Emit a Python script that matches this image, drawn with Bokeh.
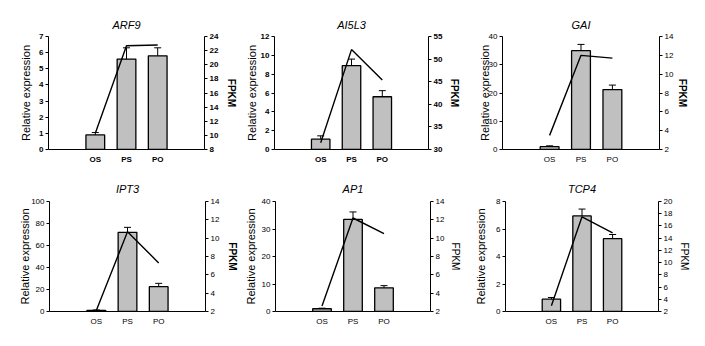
from bokeh.plotting import figure
from bokeh.models import Range1d, LinearAxis, FactorRange, FixedTicker, Whisker, TeeHead, ColumnDataSource
from bokeh.layouts import column, row
from bokeh.embed import file_html
from bokeh.resources import INLINE

# ---------------- data ----------------
stages = ["OS", "PS", "PO"]

arf9_rel = [0.9, 5.6, 5.8]
arf9_upper = [1.05, 6.3, 6.3]
arf9_fpkm = [10.3, 22.7, 22.8]
arf9_left_ticks = [0, 1, 2, 3, 4, 5, 6, 7]
arf9_right_ticks = [8, 10, 12, 14, 16, 18, 20, 22, 24]

ai5l3_rel = [1.1, 8.9, 5.6]
ai5l3_upper = [1.45, 9.6, 6.25]
ai5l3_fpkm = [31.5, 52.1, 45.4]
ai5l3_left_ticks = [0, 2, 4, 6, 8, 10, 12]
ai5l3_right_ticks = [30, 35, 40, 45, 50, 55]

gai_rel = [1.0, 35.0, 21.2]
gai_upper = [1.3, 37.2, 22.8]
gai_fpkm = [3.5, 12.0, 11.7]
gai_left_ticks = [0, 10, 20, 30, 40]
gai_right_ticks = [2, 4, 6, 8, 10, 12, 14]

ipt3_rel = [1.0, 72.0, 22.6]
ipt3_upper = [1.4, 76.5, 25.6]
ipt3_fpkm = [2.1, 10.7, 7.3]
ipt3_left_ticks = [0, 20, 40, 60, 80, 100]
ipt3_right_ticks = [2, 4, 6, 8, 10, 12, 14]

ap1_rel = [1.0, 33.5, 8.6]
ap1_upper = [1.2, 36.2, 9.4]
ap1_fpkm = [2.6, 12.2, 10.5]
ap1_left_ticks = [0, 10, 20, 30, 40]
ap1_right_ticks = [2, 4, 6, 8, 10, 12, 14]

tcp4_rel = [0.9, 6.95, 5.3]
tcp4_upper = [1.02, 7.45, 5.6]
tcp4_fpkm = [2.95, 17.5, 14.85]
tcp4_left_ticks = [0, 2, 4, 6, 8]
tcp4_right_ticks = [2, 4, 6, 8, 10, 12, 14, 16, 18, 20]

genes = ["ARF9", "AI5L3", "GAI", "IPT3", "AP1", "TCP4"]
rel_values = [arf9_rel, ai5l3_rel, gai_rel, ipt3_rel, ap1_rel, tcp4_rel]
upper_values = [arf9_upper, ai5l3_upper, gai_upper, ipt3_upper, ap1_upper, tcp4_upper]
fpkm_values = [arf9_fpkm, ai5l3_fpkm, gai_fpkm, ipt3_fpkm, ap1_fpkm, tcp4_fpkm]
left_ticks = [arf9_left_ticks, ai5l3_left_ticks, gai_left_ticks, ipt3_left_ticks, ap1_left_ticks, tcp4_left_ticks]
right_ticks = [arf9_right_ticks, ai5l3_right_ticks, gai_right_ticks, ipt3_right_ticks, ap1_right_ticks, tcp4_right_ticks]

# ---------------- layout / style ----------------
FONT = "Liberation Sans"
layouts = [
    dict(w=241, mbl=48, mbr=37, mbt=36, mbb=24, lstand=4, rstand=5, bold=True, rbold=True, tstand=12),
    dict(w=227, mbl=33, mbr=40, mbt=36, mbb=24, lstand=0, rstand=4, bold=True, rbold=True, tstand=12),
    dict(w=237, mbl=34, mbr=46, mbt=36, mbb=24, lstand=-5, rstand=1, bold=False, rbold=True, tstand=12),
    dict(w=241, mbl=49, mbr=36, mbt=26, mbb=35, lstand=-3, rstand=5, bold=False, rbold=True, tstand=14),
    dict(w=227, mbl=33, mbr=38, mbt=26, mbb=35, lstand=2, rstand=3, bold=False, rbold=False, tstand=14),
    dict(w=237, mbl=37, mbr=47, mbt=26, mbb=35, lstand=6, rstand=4, bold=False, rbold=False, tstand=14),
]


def make_panel(i):
    L = layouts[i]
    lt, rt = left_ticks[i], right_ticks[i]
    p = figure(
        x_range=FactorRange(*stages, range_padding=1.0, range_padding_units="absolute"),
        y_range=Range1d(lt[0], lt[-1]),
        width=L["w"], height=173,
        output_backend="svg", toolbar_location=None,
        min_border_left=L["mbl"], min_border_right=L["mbr"],
        min_border_top=L["mbt"], min_border_bottom=L["mbb"],
        title=genes[i],
    )
    p.extra_y_ranges = {"fpkm": Range1d(rt[0], rt[-1])}
    p.outline_line_color = None
    p.xgrid.visible = False
    p.ygrid.visible = False
    p.background_fill_color = "white"
    p.border_fill_color = "white"

    p.title.align = "center"
    p.title.text_font = FONT
    p.title.text_font_style = "italic"
    p.title.text_font_size = "11px"
    p.title.text_color = "black"
    p.title.standoff = L["tstand"]

    tick_style = "bold" if L["bold"] else "normal"

    yl = p.left[0]
    yl.ticker = FixedTicker(ticks=lt)
    yl.axis_label = "Relative expression"
    yl.axis_label_standoff = L["lstand"]

    yr = LinearAxis(y_range_name="fpkm", ticker=FixedTicker(ticks=rt), axis_label="FPKM")
    yr.axis_label_standoff = L["rstand"]
    yr.axis_label_text_font_style = "bold" if L["rbold"] else "normal"
    p.add_layout(yr, "right")

    for ax in (yl, yr):
        ax.axis_line_color = "black"
        ax.axis_line_width = 1
        ax.major_tick_line_color = "black"
        ax.major_tick_out = 3
        ax.major_tick_in = 0
        ax.minor_tick_out = 0
        ax.minor_tick_in = 0
        ax.major_label_standoff = 2
        ax.major_label_text_font = FONT
        ax.major_label_text_font_size = "8px"
        ax.major_label_text_font_style = tick_style
        ax.major_label_text_color = "black"
        ax.axis_label_text_font = FONT
        ax.axis_label_text_color = "black"
    yl.axis_label_text_font_size = "11px"
    yl.axis_label_text_font_style = "normal"
    yr.axis_label_text_font_size = "10px"

    xa = p.below[0]
    xa.axis_line_color = "black"
    xa.axis_line_width = 1
    xa.major_tick_out = 0
    xa.major_tick_in = 0
    xa.minor_tick_out = 0
    xa.major_label_standoff = 5
    xa.major_label_text_font = FONT
    xa.major_label_text_font_size = "8px"
    xa.major_label_text_font_style = tick_style
    xa.major_label_text_color = "black"

    src = ColumnDataSource(dict(x=stages, rel=rel_values[i], upper=upper_values[i], fpkm=fpkm_values[i]))
    p.vbar(x="x", top="rel", bottom=0, width=0.6, source=src,
           fill_color="#c0c0c0", line_color="black", line_width=1.3)
    wh = Whisker(source=src, base="x", upper="upper", lower="rel", dimension="height",
                 line_color="black", line_width=1, lower_head=None,
                 upper_head=TeeHead(size=7, line_color="black", line_width=1), level="glyph")
    p.add_layout(wh)
    p.line(x="x", y="fpkm", source=src, y_range_name="fpkm", line_color="black", line_width=1.4)
    return p


panels = [make_panel(i) for i in range(6)]
layout = column(row(*panels[:3], spacing=0), row(*panels[3:], spacing=0), spacing=0)

open("out.html", "w").write(file_html(layout, INLINE))
